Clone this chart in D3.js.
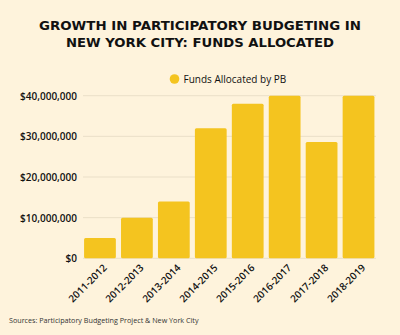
<!DOCTYPE html>
<html><head><meta charset="utf-8">
<script src="https://cdn.jsdelivr.net/npm/d3@7"></script>
<style>
html,body{margin:0;padding:0;background:#FEF3DC;}
svg{display:block;}
</style></head>
<body>
<script>
const categories = ["2011-2012","2012-2013","2013-2014","2014-2015","2015-2016","2016-2017","2017-2018","2018-2019"];
const fundsAllocated = [5000000,10000000,14000000,32000000,38000000,40000000,28600000,40000000];
const yTicks = [0,10000000,20000000,30000000,40000000];
const titleLines = ["GROWTH IN PARTICIPATORY BUDGETING IN","NEW YORK CITY: FUNDS ALLOCATED"];
const seriesName = "Funds Allocated by PB";
const sourceText = "Sources: Participatory Budgeting Project & New York City";

const W=400,H=335;
const barColor="#F4C41F", bg="#FEF3DC", textColor="#111";
const svg=d3.select("body").append("svg").attr("width",W).attr("height",H);
svg.append("rect").attr("width",W).attr("height",H).attr("fill",bg);

// title
const tl=[{t:titleLines[0],y:29.5,w:322},{t:titleLines[1],y:47,w:268}];
svg.selectAll("text.title").data(tl).join("text").attr("class","title")
  .attr("x",200).attr("y",d=>d.y).attr("text-anchor","middle")
  .attr("font-family","'DejaVu Sans', sans-serif").attr("font-weight","bold").attr("font-size",13)
  .attr("fill",textColor).attr("textLength",d=>d.w).attr("lengthAdjust","spacingAndGlyphs")
  .text(d=>d.t);

// legend
svg.append("circle").attr("cx",174.5).attr("cy",79).attr("r",4.8).attr("fill",barColor);
svg.append("text").attr("x",183.5).attr("y",82.5).attr("font-family","'Open Sans', sans-serif")
  .attr("font-size",10).attr("fill",textColor).text(seriesName);

const x=d3.scaleBand().domain(categories).range([81.5,377]).paddingInner(0.14).paddingOuter(0.07);
const y=d3.scaleLinear().domain([0,40000000]).range([258.3,95.7]);

// grid
const g=svg.append("g");
g.selectAll("line.grid").data(yTicks).join("line").attr("class","grid")
  .attr("x1",83).attr("x2",376).attr("y1",d=>y(d)).attr("y2",d=>y(d))
  .attr("stroke","#EADFC8").attr("stroke-width",1);

// y axis labels
const yAxis=d3.axisLeft(y).tickValues(yTicks).tickSize(0).tickPadding(0)
  .tickFormat(d=>"$"+d3.format(",")(d));
const ya=svg.append("g").attr("transform","translate(77,0)").call(yAxis);
ya.select(".domain").remove();
ya.selectAll("text").attr("font-family","'Open Sans', sans-serif").attr("font-size",10)
  .attr("font-weight","600").attr("fill",textColor).attr("dy","0.35em");

// bars
svg.selectAll("rect.bar").data(fundsAllocated).join("rect").attr("class","bar")
  .attr("x",(d,i)=>x(categories[i])).attr("width",x.bandwidth())
  .attr("y",d=>y(d)).attr("height",d=>y(0)-y(d)).attr("rx",1.5)
  .attr("fill",barColor);

// x axis labels
const xAxis=d3.axisBottom(x).tickSize(0).tickPadding(0);
const xa=svg.append("g").attr("transform","translate(0,263)").call(xAxis);
xa.select(".domain").remove();
xa.selectAll("text").attr("font-family","'Open Sans', sans-serif").attr("font-size",10)
  .attr("font-weight","600").attr("fill",textColor)
  .attr("text-anchor","end").attr("dy","0.35em")
  .attr("transform","translate(5,3) rotate(-45)");

// source
svg.append("text").attr("x",9).attr("y",322.5).attr("font-family","'Open Sans', sans-serif")
  .attr("font-size",7.2).attr("fill","#333").text(sourceText);
</script>
</body></html>
